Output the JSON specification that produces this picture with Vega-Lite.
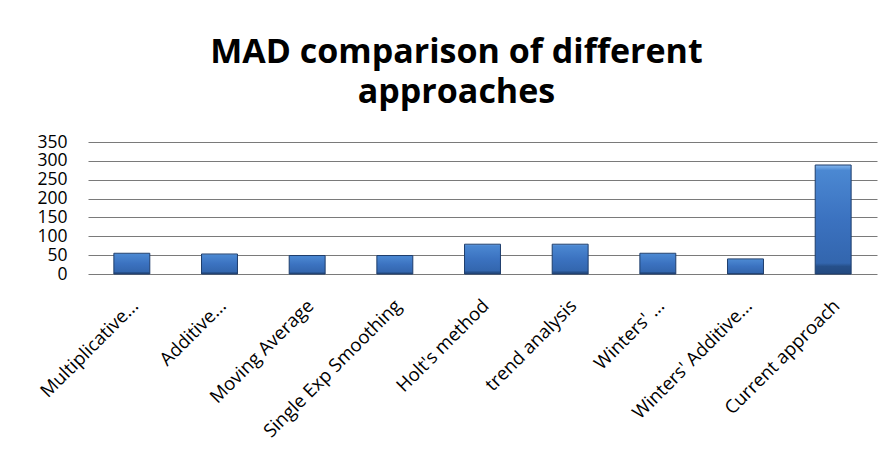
{
  "$schema": "https://vega.github.io/schema/vega-lite/v6.json",
  "width": 789,
  "height": 132,
  "autosize": {"type": "none"},
  "padding": {"left": 88, "top": 142, "right": 9, "bottom": 179},
  "background": "white",
  "title": {
    "text": ["MAD comparison of different", "approaches"],
    "anchor": "middle",
    "frame": "group",
    "font": "Open Sans",
    "fontSize": 34,
    "fontWeight": "bold",
    "color": "#000000",
    "baseline": "alphabetic",
    "lineHeight": 40,
    "offset": 39,
    "dx": -26,
    "dy": 43
  },
  "data": {
    "values": [
      {"approach": "Multiplicative...", "mad": 55},
      {"approach": "Additive...", "mad": 53},
      {"approach": "Moving Average", "mad": 49},
      {"approach": "Single Exp Smoothing", "mad": 49},
      {"approach": "Holt's method", "mad": 79},
      {"approach": "trend analysis", "mad": 79},
      {"approach": "Winters' ...", "mad": 55},
      {"approach": "Winters' Additive...", "mad": 40},
      {"approach": "Current approach", "mad": 289}
    ]
  },
  "mark": {
    "type": "bar",
    "stroke": "#1e3d6b",
    "strokeWidth": 1,
    "color": {
      "gradient": "linear",
      "x1": 0, "y1": 0, "x2": 0, "y2": 1,
      "stops": [
        {"offset": 0, "color": "#86b8f0"},
        {"offset": 0.05, "color": "#4b88d2"},
        {"offset": 0.5, "color": "#3b72c0"},
        {"offset": 0.9, "color": "#3366ae"},
        {"offset": 0.93, "color": "#26508a"},
        {"offset": 1, "color": "#23497f"}
      ]
    }
  },
  "encoding": {
    "x": {
      "field": "approach",
      "type": "nominal",
      "sort": null,
      "scale": {"paddingInner": 0.59, "paddingOuter": 0.295},
      "axis": {
        "title": null,
        "labelAngle": -45,
        "labelFont": "Open Sans",
        "labelFontSize": 18.5,
        "labelColor": "#000000",
        "labelPadding": 22,
        "labelOffset": -3,
        "ticks": false,
        "tickSize": 0,
        "domain": false,
        "labelLimit": 300
      }
    },
    "y": {
      "field": "mad",
      "type": "quantitative",
      "scale": {"domain": [0, 350]},
      "axis": {
        "title": null,
        "values": [0, 50, 100, 150, 200, 250, 300, 350],
        "labelFont": "Open Sans",
        "labelFontSize": 17.5,
        "labelColor": "#000000",
        "labelPadding": 21,
        "ticks": false,
        "tickSize": 0,
        "domain": false,
        "grid": true,
        "gridColor": "#7a7a7a",
        "gridWidth": 1
      }
    }
  },
  "config": {
    "view": {"stroke": null}
  }
}
